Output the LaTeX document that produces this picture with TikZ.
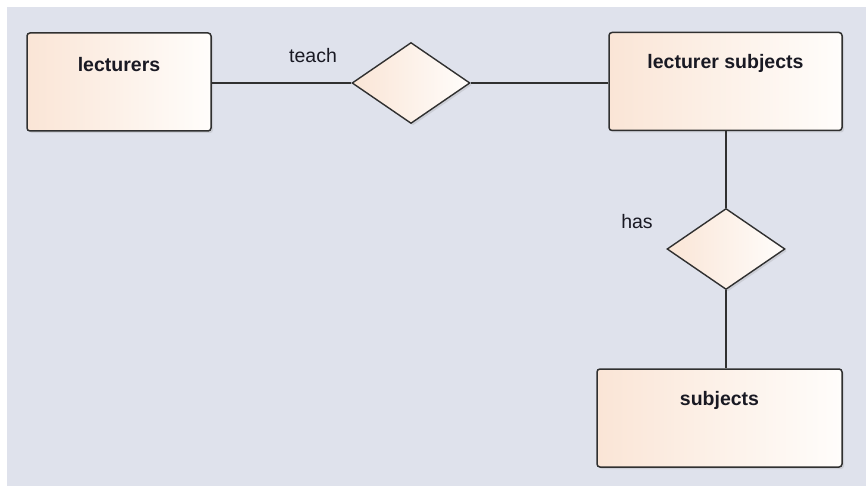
\documentclass[tikz,border=0pt]{standalone}
\usepackage{fontspec}
\setmainfont{Liberation Sans}
\usetikzlibrary{shapes.geometric,shadows}
\definecolor{canvas}{RGB}{223,226,236}
\definecolor{peach}{RGB}{250,229,214}
\definecolor{paper}{RGB}{255,253,251}
\definecolor{edge}{RGB}{48,48,48}
\definecolor{ink}{RGB}{25,25,35}
\tikzset{
  entity/.style={draw=edge,line width=1.5pt,rounded corners=3pt,left color=peach,right color=paper,
    minimum width=#1,minimum height=98pt,inner sep=0pt,
    drop shadow={shadow xshift=2pt,shadow yshift=-2pt,opacity=0.2}},
  relation/.style={diamond,draw=edge,line width=1.4pt,left color=peach,right color=paper,
    minimum width=118pt,minimum height=81pt,inner sep=0pt,
    drop shadow={shadow xshift=2pt,shadow yshift=-2pt,opacity=0.2}},
  title/.style={text=ink,font=\bfseries\fontsize{19.5}{20}\selectfont,anchor=center,yshift=-32pt},
  role/.style={text=ink,font=\fontsize{19.5}{20}\selectfont},
  link/.style={draw=edge,line width=1.4pt},
}
\begin{document}
\begin{tikzpicture}[x=1pt,y=-1pt]
\useasboundingbox (0,0) rectangle (866,486);
\fill[canvas] (7,7) rectangle (866,486);
% entities
\node[entity=184pt,label={[title]north:lecturers}] (lect) at (119,82) {};
\node[entity=233pt,label={[title]north:lecturer subjects}] (lectsubj) at (725.5,81.5) {};
\node[entity=245pt,label={[title]north:subjects}] (subj) at (719.5,418) {};
% relations
\node[relation] (teach) at (411,83) {};
\node[relation] (has) at (726,249) {};
\node[role] (teachlbl) at (313,56) {teach};
\node[role] (haslbl) at (637,222) {has};
% links
\draw[link] (lect.east |- teach) -- (teach.west);
\draw[link] (teach.east) -- (lectsubj.west |- teach);
\draw[link] (has.north |- lectsubj.south) -- (has.north);
\draw[link] (has.south) -- (has.south |- subj.north);
\end{tikzpicture}
\end{document}
